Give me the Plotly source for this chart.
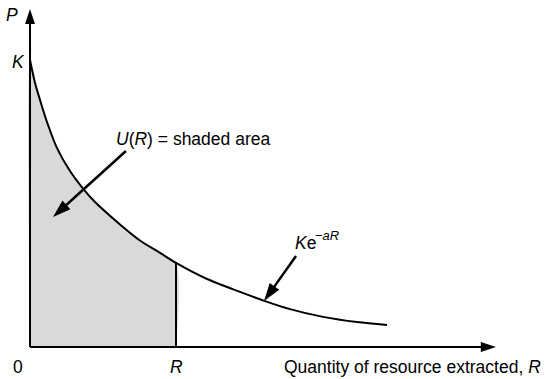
import plotly.graph_objects as go

# Price path P(R) (R in arbitrary units, P as a fraction of K)
r_vals = [0.0, 0.114, 0.227, 0.386, 0.614, 0.909, 1.205, 1.477, 2.045, 2.5, 2.955, 3.318,
          4.023, 4.773, 5.341, 5.909, 6.659, 7.432, 8.114]
p_vals = [1.0, 0.920, 0.861, 0.784, 0.693, 0.613, 0.552, 0.505, 0.427, 0.371, 0.328, 0.293,
          0.237, 0.192, 0.160, 0.132, 0.105, 0.087, 0.077]
r_mark = 3.318         # extraction level R
p_at_r = 0.293         # curve height at R
x_axis_end = 10.59
y_axis_end = 1.178

FONT = "Liberation Sans"
BLACK = "#000000"
SIZE = 17.5

fig = go.Figure()

# shaded area U(R) under the curve from 0 to R
shade_r = [r for r in r_vals if r <= r_mark]
shade_p = p_vals[:len(shade_r)]
fig.add_trace(go.Scatter(
    x=[0] + shade_r + [r_mark], y=[0] + shade_p + [0],
    mode="lines", fill="toself", fillcolor="#d9d9d9",
    line=dict(width=0, shape="spline", smoothing=0.8), hoverinfo="skip"))

# demand curve Ke^{-aR}
fig.add_trace(go.Scatter(x=r_vals, y=p_vals, mode="lines",
                         line=dict(color=BLACK, width=2, shape="spline", smoothing=0.8),
                         hoverinfo="skip"))

# vertical line at R
fig.add_trace(go.Scatter(x=[r_mark, r_mark], y=[0, p_at_r], mode="lines",
                         line=dict(color=BLACK, width=2), hoverinfo="skip"))


def arrow(x0, y0, x1, y1, width, head):
    """Straight line from (x0, y0) ending in a filled arrowhead at (x1, y1)."""
    fig.add_trace(go.Scatter(
        x=[x0, x1], y=[y0, y1], mode="lines+markers",
        line=dict(color=BLACK, width=width),
        marker=dict(symbol="arrow", size=head, angleref="previous", color=BLACK,
                    line=dict(width=0)),
        hoverinfo="skip"))


# axes
arrow(0, 0, x_axis_end, 0, 2, 16)
arrow(0, 0, 0, y_axis_end, 2, 16)

# pointer arrows
arrow(2.18, 0.683, 0.523, 0.453, 2.5, 19)
arrow(6.045, 0.317, 5.318, 0.160, 2.5, 19)

annotations = []


def label(x, y, text, xanchor="center", size=SIZE):
    annotations.append(dict(x=x, y=y, xref="x", yref="y", text=text, showarrow=False,
                            xanchor=xanchor, yanchor="middle",
                            font=dict(family=FONT, size=size, color=BLACK)))


label(-0.41, 1.157, "<i>P</i>")
label(-0.27, 0.993, "<i>K</i>")
label(-0.27, -0.07, "0")
label(r_mark, -0.07, "<i>R</i>")
label(5.73, -0.07, "Quantity of resource extracted, <i>R</i>", xanchor="left")
label(1.91, 0.725, "<i>U</i>(<i>R</i>) = shaded area", xanchor="left")
label(5.98, 0.362, "<i>K</i>e", xanchor="left")
label(6.43, 0.39, "\u2212<i>aR</i>", xanchor="left", size=13)

fig.update_layout(
    width=551, height=379,
    margin=dict(l=0, r=0, t=0, b=0),
    paper_bgcolor="white", plot_bgcolor="white",
    showlegend=False,
    annotations=annotations,
    xaxis=dict(range=[-0.682, 11.84], visible=False, fixedrange=True),
    yaxis=dict(range=[-0.1115, 1.209], visible=False, fixedrange=True),
)

fig.write_html("out.html")
